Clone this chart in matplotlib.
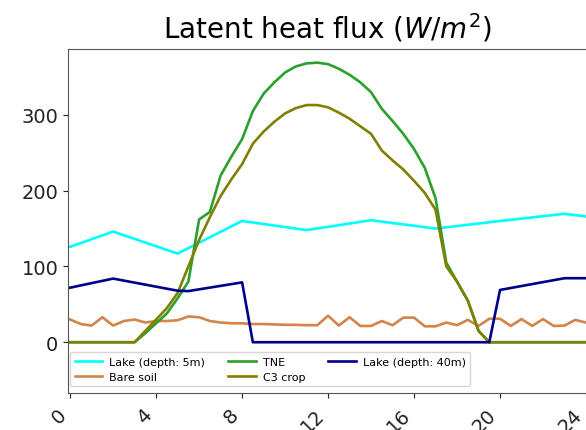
import matplotlib
matplotlib.use("Agg")
import matplotlib.pyplot as plt

# ---- data ----
hours_half = [i * 0.5 for i in range(49)]

lake5_t = [0, 2, 5, 8, 11, 14, 17, 20, 23, 24]
lake5 = [126, 146, 117, 160, 148, 161, 150, 160, 169.5, 166]

lake40_t = [0, 2, 5, 5.5, 8, 8.5, 19.5, 20, 23, 24]
lake40 = [72, 84, 68, 67.5, 79, 0, 0, 69, 84.5, 84.5]

bare_soil = [30, 24, 22, 33, 22, 28, 30, 26, 28, 28,
             29, 34, 33, 28, 26, 25, 25, 24, 24, 23.5,
             23, 23, 22.5, 22.5, 35, 22, 33, 21.5, 21.5, 28,
             22.5, 32.5, 32.5, 21, 21, 26, 22.5, 29.5, 21.5, 31,
             31, 21.5, 30.5, 21.5, 30.5, 21.5, 22, 29.5, 26]

tne = [0, 0, 0, 0, 0, 0, 0, 12, 25, 38,
       58, 80, 162, 172, 220, 245, 268, 305, 328, 343,
       356, 364, 368, 369, 367, 361, 353, 343, 330, 308,
       292, 275, 255, 230, 190, 105, 80, 55, 15, 0,
       0, 0, 0, 0, 0, 0, 0, 0, 0]

c3_crop = [0, 0, 0, 0, 0, 0, 0, 15, 30, 45,
           65, 100, 135, 165, 193, 215, 235, 262, 278, 291,
           302, 309, 313, 313, 310, 303, 295, 285, 275, 253,
           240, 228, 213, 197, 175, 100, 80, 55, 15, 0,
           0, 0, 0, 0, 0, 0, 0, 0, 0]

xticks = [0, 4, 8, 12, 16, 20, 24]
yticks = [0, 100, 200, 300]

# ---- figure ----
W, H = 586, 431
fig = plt.figure(figsize=(W / 100, H / 100), dpi=100)
ax = fig.add_axes([68 / W, (H - 394) / H, (W - 68) / W, (394 - 50) / H])

lw = 1.9
l5, = ax.plot(lake5_t, lake5, color="#00ffff", lw=lw, label="Lake (depth: 5m)")
bs, = ax.plot(hours_half, bare_soil, color="#d2844a", lw=lw, label="Bare soil")
tn, = ax.plot(hours_half, tne, color="#2ca02c", lw=lw, label="TNE")
c3, = ax.plot(hours_half, c3_crop, color="#808000", lw=lw, label="C3 crop")
l40, = ax.plot(lake40_t, lake40, color="#00008b", lw=lw, label="Lake (depth: 40m)")

ax.set_xlim(-0.1, 24)
ax.set_ylim(-67, 387)
ax.set_xticks(xticks)
ax.set_xticklabels([str(v) for v in xticks], rotation=45, ha="right")
ax.set_yticks(yticks)
ax.tick_params(labelsize=14, colors="#222222")
ax.tick_params(axis="x", pad=5)
ax.spines["right"].set_visible(False)
for s in ["left", "top", "bottom"]:
    ax.spines[s].set_color("#555555")

ax.set_title("Latent heat flux ($W/m^2$)", fontsize=20, pad=8)

leg = ax.legend(handles=[l5, bs, tn, c3, l40], loc="lower left", ncol=3,
                fontsize=8, handlelength=2.5, handletextpad=0.6,
                columnspacing=2.1, labelspacing=0.45,
                bbox_to_anchor=(0.004, 0.02), borderaxespad=0.0,
                frameon=True)

fig.savefig("out.png", dpi=100)
